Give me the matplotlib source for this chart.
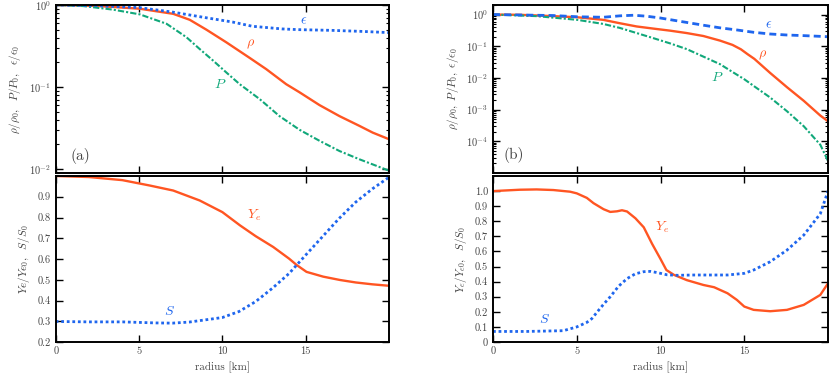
import matplotlib
matplotlib.use("Agg")
import matplotlib.pyplot as plt
from matplotlib.ticker import LogLocator, NullFormatter, FixedLocator

plt.rcParams['font.family'] = 'serif'
plt.rcParams['font.serif'] = ['cmr10']
plt.rcParams['mathtext.fontset'] = 'cm'
plt.rcParams['axes.formatter.use_mathtext'] = True
plt.rcParams['axes.unicode_minus'] = False

# ---------------- data: panel (a) top ----------------
a_rho_x = [0, 2.65, 5.05, 7.05, 8.04, 9.04, 10.24, 11.64, 12.63, 13.83, 14.63, 15.83, 17.03, 18.22, 19.02, 20]
a_rho_y = [1.0, 0.97, 0.90, 0.78, 0.66, 0.50, 0.35, 0.226, 0.165, 0.108, 0.086, 0.060, 0.044, 0.0335, 0.0277, 0.023]
a_P_x = [0, 1.66, 3.45, 5.05, 6.65, 7.84, 8.64, 9.44, 10.24, 11.04, 12.24, 13.43, 14.63, 15.83, 17.03, 18.22, 20]
a_P_y = [1.0, 0.97, 0.877, 0.768, 0.59, 0.405, 0.29, 0.21, 0.15, 0.108, 0.071, 0.044, 0.030, 0.022, 0.0165, 0.0131, 0.0095]
a_eps_x = [0, 2.5, 5, 7, 9, 10.6, 11.8, 13.6, 14.6, 16.6, 18.5, 20]
a_eps_y = [1.0, 0.98, 0.93, 0.82, 0.70, 0.62, 0.55, 0.51, 0.50, 0.49, 0.475, 0.46]

# ---------------- data: panel (a) bottom ----------------
a_Ye_x = [0, 2, 4, 5.65, 7.05, 8.64, 10, 11.06, 12.0, 13.05, 14.0, 14.46, 15.05, 16.05, 17.05, 18.0, 19.0, 20]
a_Ye_y = [1.0, 0.995, 0.98, 0.954, 0.93, 0.882, 0.826, 0.762, 0.71, 0.658, 0.602, 0.571, 0.538, 0.515, 0.499, 0.487, 0.478, 0.471]
a_S_x = [0, 2, 4, 6, 7, 8, 9, 10, 11, 12, 13, 14, 15, 16, 17, 18, 19, 20]
a_S_y = [0.299, 0.297, 0.297, 0.292, 0.291, 0.296, 0.307, 0.318, 0.347, 0.395, 0.459, 0.53, 0.619, 0.707, 0.795, 0.874, 0.938, 0.994]

# ---------------- data: panel (b) top ----------------
b_rho_x = [0, 1.6, 3.6, 5.03, 6.58, 7.58, 8.58, 9.57, 10.57, 11.57, 12.56, 13.56, 14.3, 14.8, 15.2, 15.6, 16.55, 17.55, 18.55, 19.54, 20]
b_rho_y = [1.0, 0.98, 0.89, 0.82, 0.68, 0.53, 0.42, 0.36, 0.31, 0.26, 0.21, 0.15, 0.11, 0.08, 0.056, 0.04, 0.0143, 0.0051, 0.0019, 0.00065, 0.00043]
b_P_x = [0, 2.6, 5.03, 6.58, 7.58, 8.58, 9.57, 10.57, 11.57, 12.56, 13.56, 14.36, 15.0, 15.56, 16.55, 17.55, 18.55, 19.54, 20]
b_P_y = [1.0, 0.89, 0.68, 0.505, 0.377, 0.26, 0.18, 0.123, 0.081, 0.047, 0.027, 0.0147, 0.0091, 0.0056, 0.0024, 0.00089, 0.0003, 7.8e-5, 2.4e-5]
b_eps_x = [0, 3.6, 5.03, 6.58, 7.58, 8.4, 9.17, 9.97, 11.17, 12.56, 13.56, 14.56, 15.56, 16.55, 17.55, 18.55, 20]
b_eps_y = [1.0, 0.93, 0.85, 0.82, 0.91, 0.95, 0.885, 0.78, 0.61, 0.46, 0.38, 0.326, 0.275, 0.243, 0.226, 0.216, 0.2]

# ---------------- data: panel (b) bottom ----------------
b_Ye_x = [0, 1.6, 2.6, 3.6, 4.6, 5.0, 5.6, 6.0, 6.6, 7.0, 7.4, 7.7, 8.0, 8.5, 9.0, 9.5, 10.0, 10.35, 10.8, 11.57, 12.56, 13.2, 14.0, 14.56, 15.0, 15.56, 16.55, 17.55, 18.55, 19.54, 20]
b_Ye_y = [1.0, 1.009, 1.011, 1.007, 0.996, 0.985, 0.955, 0.92, 0.88, 0.862, 0.866, 0.873, 0.865, 0.82, 0.76, 0.65, 0.55, 0.477, 0.445, 0.41, 0.378, 0.363, 0.323, 0.279, 0.235, 0.213, 0.204, 0.213, 0.246, 0.312, 0.389]
b_S_x = [0, 2, 4.2, 5.0, 5.6, 5.9, 6.3, 6.6, 7.0, 7.5, 8.0, 8.5, 9.0, 9.4, 9.8, 10.4, 11.0, 12, 14, 15.0, 15.56, 16.55, 17.55, 18.55, 19.54, 20]
b_S_y = [0.07, 0.07, 0.075, 0.10, 0.13, 0.155, 0.21, 0.25, 0.30, 0.37, 0.42, 0.452, 0.466, 0.468, 0.46, 0.445, 0.442, 0.444, 0.444, 0.455, 0.477, 0.532, 0.609, 0.708, 0.85, 1.0]

# ---------------- styling ----------------
C_OR = '#FF5522'
C_BL = '#1F66EE'
C_GR = '#11A87A'
TXT = '#444444'
LW = 1.7

fig = plt.figure(figsize=(8.3, 3.78), dpi=100)
L = [0.0671, 0.594]
W = [0.4016, 0.4036]
top_b, top_h = 0.5423, 0.4445
bot_b, bot_h = 0.0952, 0.4392

def style(ax):
    for s in ax.spines.values():
        s.set_linewidth(1.4)
    ax.tick_params(which='both', direction='in', top=True, right=True,
                   colors='black', labelcolor=TXT, labelsize=7.5)
    ax.tick_params(which='major', length=5, width=1.0)
    ax.tick_params(which='minor', length=2.5, width=0.8)
    ax.set_xlim(0, 20)
    ax.xaxis.set_major_locator(FixedLocator([0, 5, 10, 15]))

axes = []
for i in range(2):
    at = fig.add_axes([L[i], top_b, W[i], top_h])
    ab = fig.add_axes([L[i], bot_b, W[i], bot_h])
    for ax in (at, ab):
        style(ax)
    at.set_yscale('log')
    at.yaxis.set_minor_locator(LogLocator(base=10, subs=range(2, 10), numticks=20))
    at.yaxis.set_minor_formatter(NullFormatter())
    at.tick_params(labelbottom=False)
    ab.set_xlabel('radius [km]', color=TXT, fontsize=8)
    axes.append((at, ab))

# panel (a) top
at, ab = axes[0]
at.plot(a_rho_x, a_rho_y, color=C_OR, lw=LW, ls='-')
at.plot(a_P_x, a_P_y, color=C_GR, lw=1.5, ls=(0, (3, 1, 1, 1)))
at.plot(a_eps_x, a_eps_y, color=C_BL, lw=2.0, ls=(0, (1, 1)))
at.set_ylim(0.0089, 1.0)
at.yaxis.set_major_locator(LogLocator(base=10, numticks=10))
at.set_ylabel(r'$\rho/\rho_0,\ \ P/P_0,\ \ \epsilon/\epsilon_0$', color=TXT, fontsize=8)
at.text(14.9, 0.64, r'$\epsilon$', color=C_BL, fontsize=10, ha='center', va='center')
at.text(11.7, 0.335, r'$\rho$', color=C_OR, fontsize=10, ha='center', va='center')
at.text(9.9, 0.106, r'$P$', color=C_GR, fontsize=10, ha='center', va='center')
at.text(1.46, 0.0143, '(a)', color=TXT, fontsize=11, ha='center', va='center')

# panel (a) bottom
ab.plot(a_Ye_x, a_Ye_y, color=C_OR, lw=LW, ls='-')
ab.plot(a_S_x, a_S_y, color=C_BL, lw=2.0, ls=(0, (1, 1)))
ab.set_ylim(0.2, 1.0)
ab.yaxis.set_major_locator(FixedLocator([0.2, 0.3, 0.4, 0.5, 0.6, 0.7, 0.8, 0.9]))
ab.set_yticklabels(['0.2', '0.3', '0.4', '0.5', '0.6', '0.7', '0.8', '0.9'])
ab.set_xticklabels(['0', '5', '10', '15'])
ab.set_ylabel(r'$Ye/Ye_0,\ \ S/S_0$', color=TXT, fontsize=8)
ab.text(11.9, 0.81, r'$Y_e$', color=C_OR, fontsize=10, ha='center', va='center')
ab.text(6.85, 0.347, r'$S$', color=C_BL, fontsize=10, ha='center', va='center')

# panel (b) top
at, ab = axes[1]
at.plot(b_rho_x, b_rho_y, color=C_OR, lw=LW, ls='-')
at.plot(b_P_x, b_P_y, color=C_GR, lw=1.5, ls=(0, (3, 1, 1, 1)))
at.plot(b_eps_x, b_eps_y, color=C_BL, lw=2.0, ls=(0, (2.5, 1.5)))
at.set_ylim(1e-5, 2.0)
at.yaxis.set_major_locator(FixedLocator([1e-4, 1e-3, 1e-2, 1e-1, 1e0]))
at.set_yticklabels([r'$10^{-4}$', r'$10^{-3}$', r'$10^{-2}$', r'$10^{-1}$', r'$10^{0}$'])
at.set_ylabel(r'$\rho/\rho_0,\ P/P_0,\ \epsilon/\epsilon_0$', color=TXT, fontsize=8)
at.text(16.45, 0.45, r'$\epsilon$', color=C_BL, fontsize=10, ha='center', va='center')
at.text(16.1, 0.05, r'$\rho$', color=C_OR, fontsize=10, ha='center', va='center')
at.text(13.4, 0.0102, r'$P$', color=C_GR, fontsize=10, ha='center', va='center')
at.text(1.26, 3.8e-5, '(b)', color=TXT, fontsize=11, ha='center', va='center')

# panel (b) bottom
ab.plot(b_Ye_x, b_Ye_y, color=C_OR, lw=LW, ls='-')
ab.plot(b_S_x, b_S_y, color=C_BL, lw=2.0, ls=(0, (1, 1)))
ab.set_ylim(0, 1.1)
ab.yaxis.set_major_locator(FixedLocator([0, 0.1, 0.2, 0.3, 0.4, 0.5, 0.6, 0.7, 0.8, 0.9, 1.0]))
ab.set_yticklabels(['0', '0.1', '0.2', '0.3', '0.4', '0.5', '0.6', '0.7', '0.8', '0.9', '1.0'])
ab.set_xticklabels(['0', '5', '10', '15'])
ab.set_ylabel(r'$Y_e/Y_{e0},\ \ S/S_0$', color=TXT, fontsize=8)
ab.text(10.07, 0.763, r'$Y_e$', color=C_OR, fontsize=10, ha='center', va='center')
ab.text(3.1, 0.147, r'$S$', color=C_BL, fontsize=10, ha='center', va='center')

fig.savefig('out.png', dpi=100)
